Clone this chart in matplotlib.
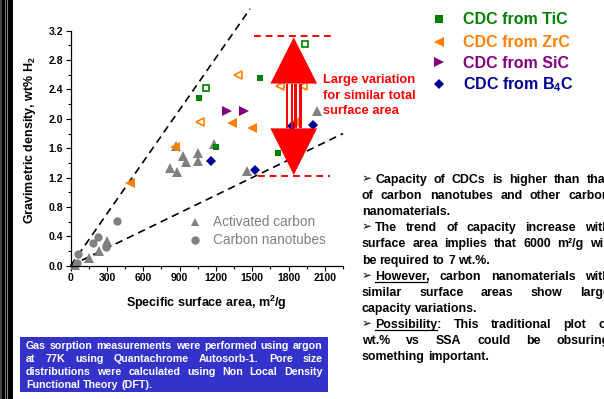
import matplotlib
matplotlib.use('Agg')
import matplotlib.pyplot as plt
from matplotlib.patches import Polygon, Rectangle
from matplotlib.lines import Line2D
from matplotlib.transforms import Affine2D
from matplotlib.ticker import MultipleLocator, FormatStrFormatter

plt.rcParams['font.family'] = ['Liberation Sans', 'DejaVu Sans']
plt.rcParams['font.weight'] = 'bold'
plt.rcParams['mathtext.fontset'] = 'custom'
plt.rcParams['mathtext.rm'] = 'Liberation Sans'
plt.rcParams['mathtext.bf'] = 'Liberation Sans:bold'

# ---- data (SSA in m2/g, H2 uptake in wt%) ----
act_x = [35, 154, 237, 297, 821, 870, 876, 925, 953, 1050, 1050, 1187, 1455, 2033]
act_y = [0.01, 0.11, 0.20, 0.33, 1.33, 1.63, 1.27, 1.50, 1.41, 1.53, 1.43, 1.66, 1.29, 2.10]
cnt_x = [55, 63, 187, 228, 292, 380]
cnt_y = [0.03, 0.16, 0.31, 0.39, 0.26, 0.61]

tic_x = [1060, 1201, 1565, 1711]
tic_y = [2.29, 1.62, 2.56, 1.54]
tic_open_x = [1115, 1936]
tic_open_y = [2.42, 3.02]

zrc_x = [491, 862, 1330, 1496, 1854]
zrc_y = [1.12, 1.62, 1.94, 1.87, 1.96]
zrc_open_x = [1070, 1385, 1730, 1922]
zrc_open_y = [1.96, 2.60, 2.45, 2.45]

sic_x = [1289, 1432]
sic_y = [2.11, 2.11]

b4c_x = [1162, 1521, 1826, 2005]
b4c_y = [1.43, 1.30, 1.90, 1.91]

# dashed guide lines through the origin
guide_slopes = [0.00236, 0.0008]
guide_xmax = [1482, 2250]

# red "range" markers
range_top, range_bot = 3.13, 1.226

GREEN, ORANGE, PURPLE, BLUE, GRAY, RED = '#008000', '#FF8000', '#800080', '#000099', '#808080', '#FF0000'

W, H = 604, 399
fig = plt.figure(figsize=(W / 100, H / 100), dpi=100)
PX = Affine2D().scale(1, -1).translate(0, H)   # pixel coords, origin top-left

# dark strip on the left edge
for x0, x1, c in [(0, 1.7, '#444444'), (1.7, 4.7, 'black'), (4.7, 6, '#777777'),
                  (6, 6.7, 'black'), (6.7, 8.3, '#8a8a8a'), (8.3, 12.7, 'black')]:
    fig.add_artist(Rectangle((x0, 0), x1 - x0, H, transform=PX, color=c, lw=0))

ax = fig.add_axes([70.7 / W, 1 - 265.7 / H, 272.3 / W, 235 / H])
ax.set_xlim(0, 2250)
ax.set_ylim(0, 3.2)
ax.spines[['top', 'right']].set_visible(False)
for s in ['left', 'bottom']:
    ax.spines[s].set_linewidth(0.9)
ax.xaxis.set_major_locator(MultipleLocator(300))
ax.xaxis.set_minor_locator(MultipleLocator(150))
ax.yaxis.set_major_locator(MultipleLocator(0.4))
ax.yaxis.set_minor_locator(MultipleLocator(0.2))
ax.yaxis.set_major_formatter(FormatStrFormatter('%.1f'))
ax.tick_params(which='major', length=3.6, width=0.8, labelsize=7.5, pad=1.7)
ax.tick_params(which='minor', length=2, width=0.8)

# guide lines
for k, xm in zip(guide_slopes, guide_xmax):
    ax.plot([0, xm], [0, k * xm], color='black', lw=1.2, dashes=(4.5, 3), clip_on=False, zorder=1)

ax.plot(act_x, act_y, '^', color=GRAY, ms=6.5, mew=0, zorder=2, clip_on=False)
ax.plot(cnt_x, cnt_y, 'o', color=GRAY, ms=6, mew=0, zorder=2, clip_on=False)
ax.plot(tic_x, tic_y, 's', color=GREEN, ms=5, mew=0, zorder=3)
ax.plot(tic_open_x, tic_open_y, 's', mfc='white', mec=GREEN, ms=5, mew=1.2, zorder=3)
ax.plot(zrc_x, zrc_y, '<', color=ORANGE, ms=6.5, mew=0, zorder=3)
ax.plot(zrc_open_x, zrc_open_y, '<', mfc='white', mec=ORANGE, ms=6, mew=1.2, zorder=3)
ax.plot(sic_x, sic_y, '>', color=PURPLE, ms=6.5, mew=0, zorder=3)
ax.plot(b4c_x, b4c_y, 'D', color=BLUE, ms=4.6, mew=0, zorder=3)

# red double arrow
cx, hw = 1843, 193
top_apex, top_base, bot_base, bot_apex = 3.11, 2.48, 1.87, 1.235
ax.add_patch(Polygon([[cx, top_apex], [cx - hw, top_base], [cx + hw, top_base]],
                     color=RED, lw=0, zorder=5, clip_on=False))
ax.add_patch(Polygon([[cx, bot_apex], [cx - hw, bot_base], [cx + hw, bot_base]],
                     color=RED, lw=0, zorder=5, clip_on=False))
for a, b in [(-66, -47), (-25, -6), (6, 25), (47, 66)]:
    ax.add_patch(Rectangle((cx + a, bot_base), b - a, top_base - bot_base,
                           color=RED, lw=0, zorder=5, clip_on=False))
ax.plot([1515, 2157], [range_top, range_top], color=RED, lw=1.4, dashes=(3.5, 2.5), clip_on=False, zorder=4)
ax.plot([1548, 2143], [range_bot, range_bot], color=RED, lw=1.4, dashes=(3.5, 2.5), clip_on=False, zorder=4)

# axis labels
fig.text(30, 140, r'Gravimetric density, wt% H$_\mathbf{2}$', transform=PX, rotation=90,
         ha='center', va='center', fontsize=9)
fig.text(206.7, 303, r'Specific surface area, m$^\mathbf{2}$/g', transform=PX,
         ha='center', va='center', fontsize=9)


def ptext(x, yc, s, size, **kw):
    # place text so the body of the line is centred on yc (pixels)
    return fig.text(x, yc + 0.33 * size * 100 / 72, s, transform=PX, va='baseline', fontsize=size, **kw)


# gray legend inside the plot
for yc, mk, lab in [(221.7, '^', 'Activated carbon'), (240, 'o', 'Carbon nanotubes')]:
    fig.add_artist(Line2D([195], [yc], marker=mk, color=GRAY, ms=6, mew=0, transform=PX))
    ptext(213, yc, lab, 9.8, color=GRAY, fontweight='normal')

# top right legend
leg = [('s', 5.3, GREEN, 'CDC from TiC', 19), ('<', 6.5, ORANGE, 'CDC from ZrC', 41.7),
       ('>', 6.5, PURPLE, 'CDC from SiC', 62.3), ('D', 4.8, BLUE, r'CDC from B$_\mathbf{4}$C', 84)]
for mk, ms, c, lab, yc in leg:
    fig.add_artist(Line2D([439], [yc], marker=mk, color=c, ms=ms, mew=0, transform=PX))
    ptext(463, yc, lab, 11.5, color=c)

for i, s in enumerate(['Large variation', 'for similar total', 'surface area']):
    ptext(322.7, 79 + 15.5 * i, s, 9.3, color=RED)

renderer = fig.canvas.get_renderer()


def width(s, **kw):
    t = fig.text(0, 0, s, transform=PX, **kw)
    w = t.get_window_extent(renderer).width
    t.remove()
    return w


def line(words, x0, x1, yc, stretch, size, **kw):
    yb = yc + 0.33 * size * 100 / 72
    ws = [width(w, fontsize=size, **kw) for w in words]
    if stretch and len(words) > 1:
        gap = (x1 - x0 - sum(ws)) / (len(words) - 1)
    else:
        gap = width('a b', fontsize=size, **kw) - width('ab', fontsize=size, **kw)
    x = x0
    pos = []
    for w, wd in zip(words, ws):
        fig.text(x, yb, w, transform=PX, va='baseline', fontsize=size, **kw)
        pos.append(x)
        x += wd + gap
    return pos, yb


# bullet text on the right (runs past the right edge, as in the slide)
bullets = [
    ('Capacity of CDCs is higher than that', True, True),
    ('of carbon nanotubes and other carbon', True, False),
    ('nanomaterials.', False, False),
    ('The trend of capacity increase with', True, True),
    ('surface area implies that 6000 m\u00b2/g will', True, False),
    ('be required to 7 wt.%.', False, False),
    ('However, carbon nanomaterials with', True, True),
    ('similar surface areas show large', True, False),
    ('capacity variations.', False, False),
    ('Possibility: This traditional plot of', True, True),
    ('wt.% vs SSA could be obsuring', True, False),
    ('something important.', False, False),
]
underlined = ['However', 'Possibility']
L, R, fs = 361.7, 610, 8.9
for i, (txt, stretch, bullet) in enumerate(bullets):
    yc = 179 + 16.1 * i
    x0 = L
    if bullet:
        fig.text(L - 0.5, yc + 3.3, '\u27a2', transform=PX, va='baseline', fontsize=8.5,
                 fontweight='normal', family='DejaVu Sans')
        x0 = 375
    words = txt.split()
    pos, yb = line(words, x0, R, yc, stretch, fs)
    for u in underlined:
        if words[0].startswith(u):
            uw = width(u, fontsize=fs)
            fig.add_artist(Line2D([pos[0], pos[0] + uw], [yb + 2, yb + 2], color='black', lw=0.9, transform=PX))

# blue info box
fig.add_artist(Rectangle((20, 336.7), 308, 55, transform=PX, color='#3333CC', lw=0))
box = ['Gas sorption measurements were performed using argon',
       'at 77K using Quantachrome Autosorb-1. Pore size',
       'distributions were calculated using Non Local Density',
       'Functional Theory (DFT).']
for i, txt in enumerate(box):
    line(txt.split(), 26, 322.7, 345.7 + 12.8 * i, i < 3, 7.7, color='white')

fig.savefig('out.png', dpi=100)
